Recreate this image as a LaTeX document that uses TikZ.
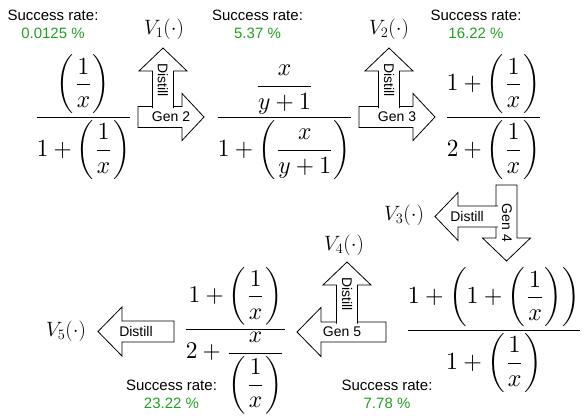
\documentclass[tikz,border=0pt]{standalone}
\usepackage{amsmath}
\usepackage{graphicx}
\usepackage{fontspec}
\setsansfont{Liberation Sans}
\definecolor{rategreen}{RGB}{34,160,34}

\tikzset{
  rate/.style={font=\sffamily\fontsize{15}{18}\selectfont, inner sep=0pt},
  pct/.style={rate, text=rategreen},
  blk/.style={draw, fill=white, line width=0.8pt, line join=miter},
  lbl/.style={font=\sffamily\fontsize{14}{16}\selectfont, inner sep=0pt},
  vlbl/.style={font=\fontsize{20}{24}\selectfont, inner sep=0pt},
  formula/.style={inner sep=0pt}
}

\begin{document}
\begin{tikzpicture}[x=1pt, y=-1pt]
        \useasboundingbox (0,0) rectangle (585,415);

        % success rates
        \node[rate] (rate1) at (53,15) {Success rate:};
        \node[pct] (pct1) at (53,33) {0.0125 \%};
        \node[rate] (rate2) at (257.5,15) {Success rate:};
        \node[pct] (pct2) at (257.5,33) {5.37 \%};
        \node[rate] (rate3) at (476,15) {Success rate:};
        \node[pct] (pct3) at (476,33) {16.22 \%};
        \node[rate] (rate4) at (387,385) {Success rate:};
        \node[pct] (pct4) at (387,403) {7.78 \%};
        \node[rate] (rate5) at (171.5,385) {Success rate:};
        \node[pct] (pct5) at (171.5,403) {23.22 \%};

        % vzorce
        \node[formula] (f1) at (83.5,117.5)
        {\resizebox*{99pt}{125pt}{$\displaystyle \frac{\left(\dfrac{1}{x}\right)}{1+\left(\dfrac{1}{x}\right)}$}};
        \node[formula] (f2) at (284.5,122.5)
        {\resizebox*{139pt}{115pt}{$\displaystyle \frac{\dfrac{x}{y+1}}{1+\left(\dfrac{x}{y+1}\right)}$}};
        \node[formula] (f3) at (493.5,117.5)
        {\resizebox*{99pt}{125pt}{$\displaystyle \frac{1+\left(\dfrac{1}{x}\right)}{2+\left(\dfrac{1}{x}\right)}$}};
        \node[formula] (f4) at (494,330.5)
        {\resizebox*{178pt}{125pt}{$\displaystyle \frac{1+\left(1+\left(\dfrac{1}{x}\right)\right)}{1+\left(\dfrac{1}{x}\right)}$}};
        \node[formula] (f5) at (235.5,341)
        {\resizebox*{105pt}{146pt}{$\displaystyle \frac{1+\left(\dfrac{1}{x}\right)}{2+\dfrac{x}{\left(\dfrac{1}{x}\right)}}$}};

        % Gen 2 + Distill
        \draw[blk] (138,106.5) -- (182,106.5) -- (182,93.5) -- (204,117)
        -- (182,140.5) -- (182,127.5) -- (138,127.5) -- cycle;
        \draw[blk] (152.5,108) -- (152.5,71) -- (139,71) -- (163,48)
        -- (187,71) -- (173.5,71) -- (173.5,108);
        \node[lbl, rotate=-90] (dist1) at (163,80) {Distill};
        \node[lbl] (gen2) at (171,117) {Gen 2};
        \node[vlbl] (v1) at (164,29) {$V_1(\cdot)$};

        % Gen 3 + Distill
        \draw[blk] (359,106.5) -- (413,106.5) -- (413,93.5) -- (435,117)
        -- (413,140.5) -- (413,127.5) -- (359,127.5) -- cycle;
        \draw[blk] (378.5,108) -- (378.5,71) -- (365,71) -- (389,48)
        -- (413,71) -- (399.5,71) -- (399.5,108);
        \node[lbl, rotate=-90] (dist2) at (389,80) {Distill};
        \node[lbl] (gen3) at (397,117) {Gen 3};
        \node[vlbl] (v2) at (389,29) {$V_2(\cdot)$};

        % Gen 4 + Distill
        \draw[blk] (496,185) -- (496,238) -- (482.5,238) -- (506.5,261)
        -- (530.5,238) -- (517,238) -- (517,185) -- cycle;
        \draw[blk] (498,206) -- (458,206) -- (458,192.5) -- (435,216.5)
        -- (458,240.5) -- (458,227) -- (498,227);
        \node[lbl, rotate=-90] (gen4) at (507,223) {Gen 4};
        \node[lbl] (dist3) at (467,216.5) {Distill};
        \node[vlbl] (v3) at (404,215) {$V_3(\cdot)$};

        % Gen 5 + Distill
        \draw[blk] (386,322) -- (321,322) -- (321,307.5) -- (297,332)
        -- (321,356.5) -- (321,342) -- (386,342) -- cycle;
        \draw[blk] (336.5,323.5) -- (336.5,285) -- (323,285) -- (347,262)
        -- (371,285) -- (357.5,285) -- (357.5,323.5);
        \node[lbl, rotate=-90] (dist4) at (347,294) {Distill};
        \node[lbl] (gen5) at (342,332) {Gen 5};
        \node[vlbl] (v4) at (344,245) {$V_4(\cdot)$};

        % Distill
        \draw[blk] (174,321) -- (122,321) -- (122,307) -- (98,331.5)
        -- (122,356) -- (122,342) -- (174,342) -- cycle;
        \node[lbl] (dist5) at (136,331.5) {Distill};
        \node[vlbl] (v5) at (66,331) {$V_5(\cdot)$};

\end{tikzpicture}
\end{document}
